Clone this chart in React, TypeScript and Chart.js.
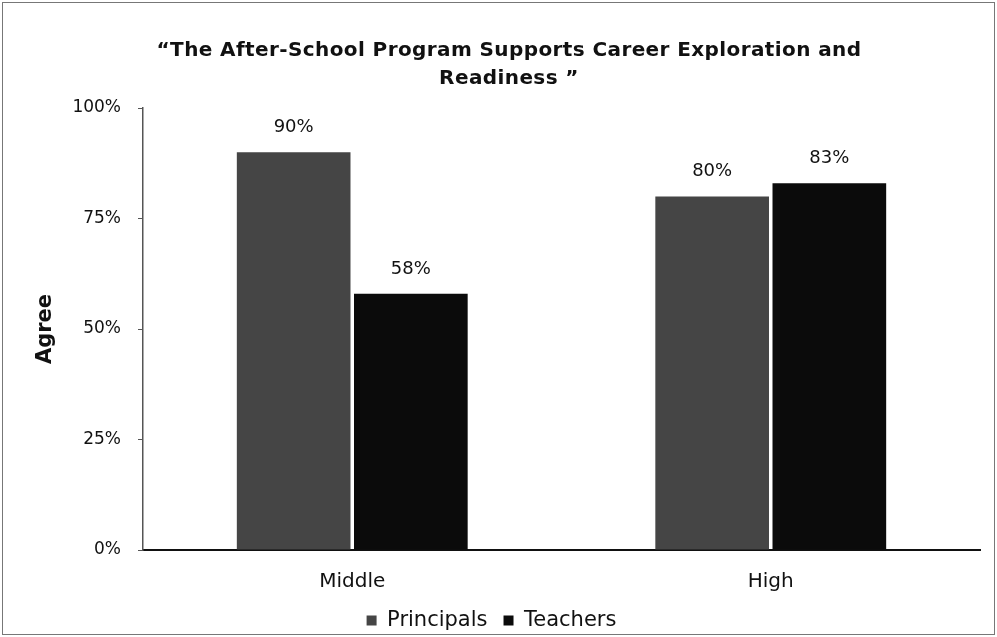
import React, { useEffect, useRef } from "react";
import { Chart, registerables } from "chart.js";

Chart.register(...registerables);

const categories = ["Middle", "High"];
const principals = [90, 80];
const teachers = [58, 83];
const seriesNames = ["Principals", "Teachers"];
const yTicks = [0, 25, 50, 75, 100];
const titleLines = ["\u201CThe After-School Program Supports Career Exploration and", "Readiness \u201D"];
const yAxisTitle = "Agree";

const FONT = "'DejaVu Sans', sans-serif";

const titlePlugin = {
  id: "customTitle",
  afterDraw(chart: any) {
    const ctx = chart.ctx;
    ctx.save();
    ctx.fillStyle = "#111";
    ctx.font = `bold 20px ${FONT}`;
    try {
      (ctx as any).letterSpacing = "0.4px";
    } catch (e) {}
    ctx.textAlign = "center";
    ctx.textBaseline = "alphabetic";
    const cx = 506;
    titleLines.forEach((line, i) => {
      ctx.fillText(line, cx, 53 + i * 28);
    });
    ctx.restore();
  },
};

const valueLabelPlugin = {
  id: "valueLabels",
  afterDatasetsDraw(chart: any) {
    const ctx = chart.ctx;
    ctx.save();
    ctx.fillStyle = "#111";
    ctx.font = `18px ${FONT}`;
    ctx.textAlign = "center";
    ctx.textBaseline = "alphabetic";
    chart.data.datasets.forEach((ds: any, di: number) => {
      const meta = chart.getDatasetMeta(di);
      meta.data.forEach((bar: any, i: number) => {
        ctx.fillText(ds.data[i] + "%", bar.x, bar.y - 20);
      });
    });
    ctx.restore();
  },
};

export default function App() {
  const ref = useRef<HTMLCanvasElement>(null);
  useEffect(() => {
    if (!ref.current) return;
    const chart = new Chart(ref.current, {
      type: "bar",
      data: {
        labels: categories,
        datasets: [
          {
            label: seriesNames[0],
            data: principals,
            backgroundColor: "#454545",
            borderWidth: 0,
            barPercentage: 0.97,
            categoryPercentage: 0.56,
          },
          {
            label: seriesNames[1],
            data: teachers,
            backgroundColor: "#0b0b0b",
            borderWidth: 0,
            barPercentage: 0.97,
            categoryPercentage: 0.56,
          },
        ],
      },
      options: {
        animation: false,
        responsive: true,
        maintainAspectRatio: false,
        layout: { padding: { top: 105, left: 0, right: 14, bottom: -7 } },
        plugins: {
          title: { display: false },
          tooltip: { enabled: false },
          legend: {
            display: true,
            position: "bottom",
            labels: {
              boxWidth: 10,
              boxHeight: 10,
              padding: 16,
              color: "#111",
              font: { family: FONT, size: 21 },
            },
          },
        },
        scales: {
          x: {
            grid: { display: false, drawTicks: false },
            border: { display: true, color: "#111", width: 2 },
            ticks: {
              color: "#111",
              padding: 20,
              font: { family: FONT, size: 20 },
            },
            afterFit(scale: any) {
              scale.height = 44;
            },
          },
          y: {
            min: 0,
            max: 100,
            afterBuildTicks(scale: any) {
              scale.ticks = yTicks.map((v) => ({ value: v }));
            },
            grid: {
              display: true,
              drawOnChartArea: false,
              drawTicks: true,
              tickLength: 5,
              color: "#555",
            },
            border: { display: true, color: "#555", width: 1.5 },
            ticks: {
              color: "#111",
              padding: 17,
              font: { family: FONT, size: 17 },
              callback: (v: any) => v + "%",
            },
            title: {
              display: true,
              text: yAxisTitle,
              color: "#111",
              font: { family: FONT, size: 21, weight: "bold" },
              padding: { top: 30, bottom: 0 },
            },
            afterFit(scale: any) {
              scale.width = 140;
            },
          },
        },
      },
      plugins: [titlePlugin, valueLabelPlugin],
    });
    return () => chart.destroy();
  }, []);

  return (
    <div
      style={{
        position: "fixed",
        left: 2,
        top: 2,
        width: 993,
        height: 633,
        border: "1px solid #777",
        boxSizing: "border-box",
        background: "#fff",
      }}
    >
      <canvas ref={ref} />
    </div>
  );
}
